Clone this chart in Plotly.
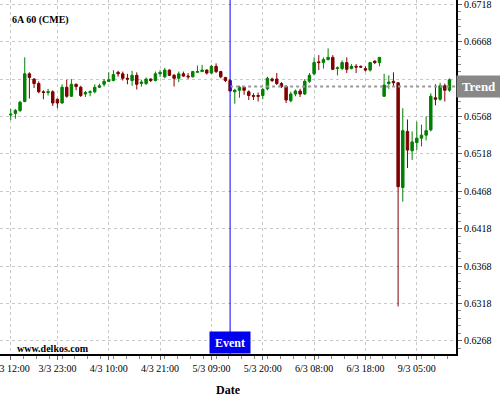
import plotly.graph_objects as go

opens = [0.6570,0.6572,0.6576,0.6588,0.6625,0.6618,0.6612,0.6601,0.6600,0.6601,
         0.6591,0.6586,0.6607,0.6595,0.6611,0.6607,0.6598,0.6600,0.6601,0.6607,
         0.6611,0.6615,0.6616,0.6627,0.6625,0.6619,0.6616,0.6623,0.6612,0.6612,
         0.6618,0.6616,0.6625,0.6621,0.6630,0.6623,0.6619,0.6625,0.6622,0.6621,
         0.6627,0.6628,0.6630,0.6626,0.6635,0.6628,0.6620,0.6616,0.6601,0.6603,
         0.6607,0.6601,0.6596,0.6596,0.6596,0.6605,0.6618,0.6618,0.6612,0.6608,
         0.6589,0.6598,0.6602,0.6598,0.6615,0.6625,0.6641,0.6640,0.6644,0.6647,
         0.6632,0.6632,0.6640,0.6632,0.6635,0.6635,0.6632,0.6630,0.6642,0.6640,
         0.6595,0.6612,0.6615,0.6613,0.6473,0.6548,0.6522,0.6533,0.6539,0.6543,
         0.6550,0.6593,0.6591,0.6609,0.6603]
highs = [0.6578,0.6578,0.6589,0.6647,0.6627,0.6619,0.6615,0.6603,0.6605,0.6603,
         0.6592,0.6611,0.6617,0.6618,0.6612,0.6609,0.6602,0.6603,0.6611,0.6612,
         0.6618,0.6627,0.6630,0.6629,0.6628,0.6625,0.6629,0.6627,0.6617,0.6620,
         0.6619,0.6628,0.6630,0.6633,0.6631,0.6625,0.6628,0.6628,0.6626,0.6629,
         0.6636,0.6637,0.6631,0.6637,0.6639,0.6629,0.6621,0.6618,0.6605,0.6609,
         0.6608,0.6603,0.6599,0.6600,0.6606,0.6621,0.6620,0.6626,0.6614,0.6610,
         0.6601,0.6604,0.6605,0.6618,0.6626,0.6647,0.6650,0.6647,0.6659,0.6650,
         0.6635,0.6643,0.6647,0.6638,0.6638,0.6636,0.6635,0.6641,0.6643,0.6647,
         0.6625,0.6623,0.6627,0.6614,0.6579,0.6564,0.6548,0.6561,0.6557,0.6568,
         0.6599,0.6611,0.6613,0.6612,0.6619]
lows = [0.6563,0.6565,0.6574,0.6587,0.6592,0.6606,0.6599,0.6591,0.6596,0.6582,
        0.6579,0.6585,0.6593,0.6594,0.6603,0.6594,0.6594,0.6595,0.6599,0.6606,
        0.6608,0.6614,0.6615,0.6621,0.6616,0.6611,0.6609,0.6604,0.6608,0.6610,
        0.6614,0.6615,0.6621,0.6619,0.6622,0.6608,0.6614,0.6621,0.6618,0.6620,
        0.6627,0.6628,0.6624,0.6625,0.6626,0.6619,0.6614,0.6602,0.6585,0.6593,
        0.6597,0.6590,0.6590,0.6588,0.6591,0.6603,0.6614,0.6610,0.6606,0.6586,
        0.6587,0.6595,0.6594,0.6597,0.6613,0.6623,0.6630,0.6632,0.6643,0.6630,
        0.6623,0.6630,0.6626,0.6631,0.6626,0.6633,0.6628,0.6628,0.6638,0.6635,
        0.6594,0.6605,0.6608,0.6314,0.6454,0.6499,0.6510,0.6523,0.6528,0.6536,
        0.6548,0.6583,0.6589,0.6588,0.6601]
closes = [0.6571,0.6576,0.6587,0.6625,0.6620,0.6612,0.6601,0.6600,0.6601,0.6586,
          0.6586,0.6607,0.6595,0.6611,0.6608,0.6596,0.6600,0.6601,0.6607,0.6609,
          0.6615,0.6617,0.6624,0.6625,0.6619,0.6618,0.6623,0.6611,0.6614,0.6618,
          0.6616,0.6625,0.6627,0.6630,0.6623,0.6619,0.6625,0.6622,0.6621,0.6628,
          0.6628,0.6630,0.6626,0.6635,0.6628,0.6621,0.6616,0.6602,0.6603,0.6607,
          0.6603,0.6596,0.6595,0.6595,0.6604,0.6619,0.6616,0.6612,0.6608,0.6590,
          0.6598,0.6602,0.6598,0.6615,0.6623,0.6640,0.6640,0.6644,0.6647,0.6631,
          0.6633,0.6640,0.6631,0.6635,0.6634,0.6634,0.6630,0.6640,0.6640,0.6647,
          0.6610,0.6614,0.6613,0.6474,0.6549,0.6523,0.6534,0.6539,0.6543,0.6549,
          0.6595,0.6591,0.6609,0.6603,0.6617]

tick_positions = [0, 10, 21, 32, 43, 54, 65, 76, 87]
tick_labels = ["3/3 12:00", "3/3 23:00", "4/3 10:00", "4/3 21:00", "5/3 09:00",
               "5/3 20:00", "6/3 08:00", "6/3 18:00", "9/3 05:00"]
price_ticks = [0.6268, 0.6318, 0.6368, 0.6418, 0.6468, 0.6518, 0.6568, 0.6618, 0.6668, 0.6718]
hidden_price_tick = 0.6618  # covered by the "Trend" tag in the reference
event_index = 47
trend_value = 0.6608

xs = list(range(len(opens)))
FONT = "Liberation Serif"
GREEN = "#008000"
RED = "#800000"

fig = go.Figure(go.Candlestick(
    x=xs, open=opens, high=highs, low=lows, close=closes,
    increasing=dict(line=dict(color=GREEN, width=1), fillcolor=GREEN),
    decreasing=dict(line=dict(color=RED, width=1), fillcolor=RED),
    whiskerwidth=0, hoverinfo="skip", showlegend=False,
))

x_range = [-2.3, 95.4]
price_text = ["" if abs(v - hidden_price_tick) < 1e-9 else f"{v:.4f}" for v in price_ticks]

fig.update_layout(
    width=500, height=400,
    margin=dict(l=0, r=44, t=0, b=46, pad=0, autoexpand=False),
    paper_bgcolor="white", plot_bgcolor="white",
    font=dict(family=FONT, size=10, color="black"),
    boxgap=0.25,
    showlegend=False,
    xaxis=dict(
        range=x_range, rangeslider=dict(visible=False), automargin=False,
        tickmode="array", tickvals=tick_positions, ticktext=tick_labels,
        ticklabeloverflow="allow",
        showgrid=True, gridcolor="#c8c8c8", griddash="3px,3px", gridwidth=1,
        showline=True, linecolor="black", linewidth=2,
        ticks="outside", ticklen=4, tickcolor="#666",
        tickfont=dict(family=FONT, size=10),
        minor=dict(tickmode="linear", tick0=0, dtick=2.75, ticks="outside",
                   ticklen=3, tickcolor="#888", showgrid=False),
        zeroline=False, fixedrange=True,
    ),
    yaxis=dict(
        side="right", range=[0.62504, 0.67237], automargin=False,
        tickmode="array", tickvals=price_ticks, ticktext=price_text,
        ticklabeloverflow="allow",
        showgrid=True, gridcolor="#c8c8c8", griddash="3px,3px", gridwidth=1,
        showline=True, linecolor="black", linewidth=2,
        ticks="outside", ticklen=4, tickcolor="#666",
        tickfont=dict(family=FONT, size=10),
        minor=dict(tickmode="linear", tick0=0.6268, dtick=0.001, ticks="outside",
                   ticklen=3, tickcolor="#888", showgrid=False),
        zeroline=False, fixedrange=True,
    ),
    shapes=[
        dict(type="line", xref="x", yref="y", x0=event_index, x1=x_range[1],
             y0=trend_value, y1=trend_value,
             line=dict(color="#9a9a9a", width=2, dash="dot"), layer="above"),
        dict(type="line", xref="x", yref="paper", x0=event_index, x1=event_index,
             y0=0, y1=1, line=dict(color="#0000ff", width=1), layer="above"),
    ],
    annotations=[
        dict(text="<b>6A 60 (CME)</b>", xref="paper", yref="paper",
             x=10/456, y=1 - 20/354, xanchor="left", yanchor="middle",
             showarrow=False, font=dict(family=FONT, size=10, color="black")),
        dict(text="<b>www.delkos.com</b>", xref="paper", yref="paper",
             x=15/456, y=(354-348)/354, xanchor="left", yanchor="middle",
             showarrow=False, font=dict(family=FONT, size=10, color="black")),
        dict(text="<b>Event</b>", xref="x", yref="paper", x=event_index, y=0,
             xanchor="center", yanchor="bottom", showarrow=False,
             width=40, height=21, bgcolor="#0000ee", borderpad=0,
             font=dict(family=FONT, size=12, color="white")),
        dict(text="<b>Trend</b>", xref="paper", yref="y", x=1, y=trend_value,
             xanchor="left", yanchor="middle", showarrow=False,
             width=44, height=21, bgcolor="#888888", borderpad=0,
             font=dict(family=FONT, size=13, color="white")),
        dict(text="<b>Date</b>", xref="paper", yref="paper", x=0.5, y=-36/354,
             xanchor="center", yanchor="middle", showarrow=False,
             font=dict(family=FONT, size=12, color="black")),
    ],
)

fig.write_html("out.html", config={"displayModeBar": False},
               post_script="document.body.style.margin='0';document.body.style.padding='0';")
